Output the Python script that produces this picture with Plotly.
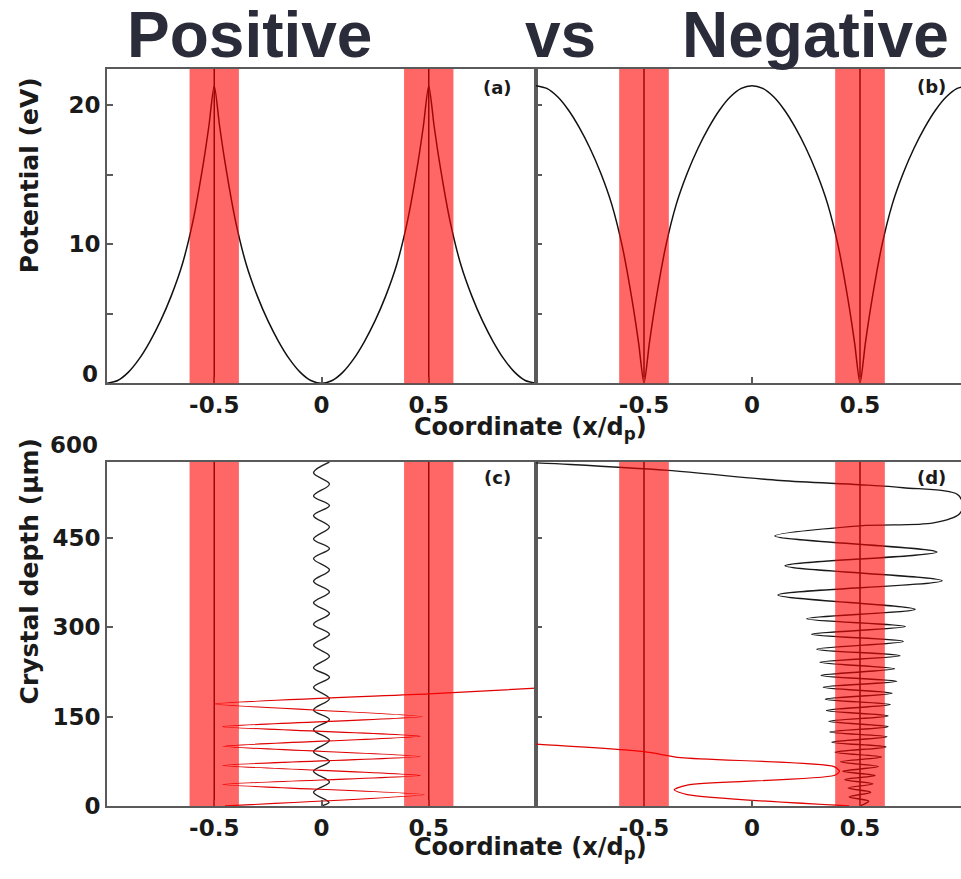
import plotly.graph_objects as go

# ---------------- data ----------------
# transverse coordinate grid for the potentials (x/dp)
X_POT = [-1.0, -0.95, -0.9, -0.85, -0.8, -0.75, -0.7, -0.65, -0.6, -0.55, -0.525, -0.5,
         -0.475, -0.45, -0.4, -0.35, -0.3, -0.25, -0.2, -0.15, -0.1, -0.05, 0.0,
         0.05, 0.1, 0.15, 0.2, 0.25, 0.3, 0.35, 0.4, 0.45, 0.475, 0.5,
         0.525, 0.55, 0.6, 0.65, 0.7, 0.75, 0.8, 0.85, 0.9, 0.95, 1.0]
# potential for positive particles (eV), panel (a)
POT_POS = [0.0, 0.2, 0.8, 1.75, 3.0, 4.5, 6.3, 8.5, 11.6, 15.9, 18.5, 21.4,
           18.5, 15.9, 11.6, 8.5, 6.3, 4.5, 3.0, 1.75, 0.8, 0.2, 0.0,
           0.2, 0.8, 1.75, 3.0, 4.5, 6.3, 8.5, 11.6, 15.9, 18.5, 21.4,
           18.5, 15.9, 11.6, 8.5, 6.3, 4.5, 3.0, 1.75, 0.8, 0.2, 0.0]
# potential for negative particles (eV), panel (b)
POT_NEG = [21.4, 21.2, 20.6, 19.65, 18.4, 16.9, 15.1, 12.9, 9.8, 5.5, 2.9, 0.0,
           2.9, 5.5, 9.8, 12.9, 15.1, 16.9, 18.4, 19.65, 20.6, 21.2, 21.4,
           21.2, 20.6, 19.65, 18.4, 16.9, 15.1, 12.9, 9.8, 5.5, 2.9, 0.0,
           2.9, 5.5, 9.8, 12.9, 15.1, 16.9, 18.4, 19.65, 20.6, 21.2, 21.4]

# panel (c): channeled positive particle (black) – turning points
C_BLACK_X = [0.0, 0.035, -0.037, 0.037, -0.037, 0.037, -0.037, 0.037, -0.037, 0.037, -0.037,
             0.037, -0.037, 0.037, -0.037, 0.037, -0.037, 0.037, -0.037, 0.037, -0.037,
             0.037, -0.037, 0.037, -0.037, 0.037, -0.037, 0.037, -0.037, 0.037, -0.037,
             0.037, -0.037, 0.037]
C_BLACK_Z = [0, 6, 23, 40, 58, 75, 91, 110, 128, 145, 161,
             180, 199, 216, 232, 251, 270, 288, 305, 323, 341,
             359, 377, 396, 415, 432, 448, 468, 487, 504, 520,
             540, 559, 577]
# panel (c): over-barrier positive particle (red)
C_RED_X = [-0.45, 0.48, -0.46, 0.46, -0.46, 0.46, -0.46, 0.46, -0.46, 0.47, -0.5, 0.5, 1.02]
C_RED_Z = [0, 19, 36, 51, 68, 83, 100, 117, 133, 150, 171, 188, 198]

# panel (d): channeled negative particle (black)
D_BLACK_X = [0.50, 0.54, 0.45, 0.55, 0.445, 0.56, 0.43, 0.57, 0.42, 0.585, 0.41,
             0.60, 0.385, 0.62, 0.37, 0.625, 0.36, 0.63, 0.355, 0.63, 0.345,
             0.64, 0.34, 0.648, 0.33, 0.67, 0.32, 0.66, 0.315, 0.685, 0.30,
             0.70, 0.276, 0.71, 0.253, 0.755, 0.12, 0.88, 0.153, 0.856, 0.106,
             0.5, 0.84, 0.96, 0.975, 0.95, 0.7, 0.5, 0.13, -0.39, -0.84, -1.02]
D_BLACK_Z = [0, 8, 15, 23, 30, 37, 44, 51, 58, 66, 74,
             82, 90, 99, 107, 116, 124, 133, 142, 151, 160,
             170, 179, 189, 199, 209, 219, 230, 241, 252, 263,
             276, 288, 301, 314, 330, 354, 378, 403, 426, 453,
             470, 475, 490, 505, 523, 534, 539, 546, 563, 573, 576]
# panel (d): negative particle leaving the channel (red)
D_RED_X = [0.45, -0.30, -0.36, -0.30, 0.38, 0.405, 0.38, -0.33, -0.5, -1.02]
D_RED_Z = [0, 19, 27, 35, 51, 58, 66, 81, 91, 104]

PLANES = [-0.5, 0.5]          # atomic plane positions
BAND_HALF = 0.115             # half width of the shaded region

# ---------------- figure ----------------
W, H = 961, 879
FONT = "DejaVu Sans"
TFONT = "Liberation Sans"
AX = "#5a5a5a"

def px_x(p):
    return p / W

def px_y(p):
    return 1 - p / H

fig = go.Figure()

def line(x, y, xa, ya, color, width=1.4, smooth=0.8):
    fig.add_trace(go.Scatter(x=x, y=y, xaxis=xa, yaxis=ya, mode="lines",
                             line=dict(color=color, width=width, shape="spline",
                                       smoothing=smooth),
                             showlegend=False, hoverinfo="skip"))

line(X_POT, POT_POS, "x", "y", "#111111", 1.5, 0.7)
line(X_POT, POT_NEG, "x2", "y2", "#111111", 1.5, 0.7)
line(C_BLACK_X, C_BLACK_Z, "x3", "y3", "#222222", 1.4, 1.0)
line(C_RED_X, C_RED_Z, "x3", "y3", "#e00000", 1.2, 0.5)
line(D_BLACK_X, D_BLACK_Z, "x4", "y4", "#1a1a1a", 1.4, 0.9)
line(D_RED_X, D_RED_Z, "x4", "y4", "#e00000", 1.2, 0.7)

shapes = []
for xa, ya in [("x", "y"), ("x2", "y2"), ("x3", "y3"), ("x4", "y4")]:
    for p in PLANES:
        shapes.append(dict(type="line", xref=xa, yref=ya + " domain", x0=p, x1=p, y0=0, y1=1,
                           line=dict(color="#111111", width=1.5), layer="below"))
        shapes.append(dict(type="rect", xref=xa, yref=ya + " domain",
                           x0=p - BAND_HALF, x1=p + BAND_HALF, y0=0, y1=1,
                           fillcolor="rgba(255,0,0,0.6)", line=dict(width=0), layer="above"))

tickfont = dict(family=FONT, size=23, color="#1a1a1a", weight="bold")
LEFT = [107 / W, 536 / W]
RIGHT = [536 / W, 1.0]
TOP = [px_y(389), px_y(70)]
BOT = [px_y(818), px_y(469)]

xcommon = dict(showline=True, linecolor=AX, linewidth=2, mirror=True, ticks="inside",
               ticklen=6, tickwidth=1.5, tickcolor=AX, showgrid=False, zeroline=False,
               tickvals=[-0.5, 0, 0.5], ticktext=["-0.5", "0", "0.5"], tickfont=tickfont)
ycommon = dict(showline=True, linecolor=AX, linewidth=2, ticks="inside", ticklen=6,
               tickwidth=1.5, tickcolor=AX, showgrid=False, zeroline=False, tickfont=tickfont)

fig.update_layout(
    width=W, height=H, margin=dict(l=0, r=0, t=0, b=0),
    paper_bgcolor="white", plot_bgcolor="white", showlegend=False,
    xaxis=dict(xcommon, domain=LEFT, range=[-1, 1], anchor="y"),
    xaxis2=dict(xcommon, domain=RIGHT, range=[-1, 0.9676], anchor="y2"),
    xaxis3=dict(xcommon, domain=LEFT, range=[-1, 1], anchor="y3"),
    xaxis4=dict(xcommon, domain=RIGHT, range=[-1, 0.9676], anchor="y4"),
    yaxis=dict(ycommon, domain=TOP, range=[0, 22.6], anchor="x", mirror=True,
               tickvals=[5, 10, 15, 20], ticktext=[" ", "10", " ", "20"]),
    yaxis2=dict(ycommon, domain=TOP, range=[0, 22.6], anchor="x2", mirror=False,
                tickvals=[5, 10, 15, 20], showticklabels=False),
    yaxis3=dict(ycommon, domain=BOT, range=[0, 577], anchor="x3", mirror=True,
                tickvals=[0, 150, 300, 450], ticktext=["0", "150", "300", "450"]),
    yaxis4=dict(ycommon, domain=BOT, range=[0, 577], anchor="x4", mirror=False,
                tickvals=[150, 300, 450], showticklabels=False),
    shapes=shapes,
)

ann = []
def text(t, x, y, size, xanchor="center", yanchor="middle", angle=0, color="#1a1a1a", family=FONT):
    ann.append(dict(text=t, x=px_x(x), y=px_y(y), xref="paper", yref="paper",
                    showarrow=False, xanchor=xanchor, yanchor=yanchor, textangle=angle,
                    font=dict(family=family, size=size, color=color, weight="bold")))

# header
TITLE_C = "#2b2c3a"
text("Positive", 250, 36, 64, color=TITLE_C, family=TFONT)
text("vs", 560, 36, 64, color=TITLE_C, family=TFONT)
text("Negative", 815, 36, 64, color=TITLE_C, family=TFONT)
# extra tick labels
text("0", 100, 380, 23, xanchor="right")
text("600", 100, 452, 23, xanchor="right")
# axis titles
text("Potential (eV)", 29, 178, 25, angle=-90)
text("Crystal depth (μm)", 29, 580, 25, angle=-90)
text("Coordinate (x/d<sub>p</sub>)", 530, 435, 24)
text("Coordinate (x/d<sub>p</sub>)", 530, 861, 24)
# panel labels
text("(a)", 498, 89, 18)
text("(b)", 931, 88, 18)
text("(c)", 498, 485, 18)
text("(d)", 931, 485, 18)
fig.update_layout(annotations=ann)

fig.write_html(
    "out.html",
    config={"displayModeBar": False},
    post_script="document.body.style.margin='0';"
                "document.documentElement.style.overflow='hidden';"
                "document.body.style.overflow='hidden';",
)
